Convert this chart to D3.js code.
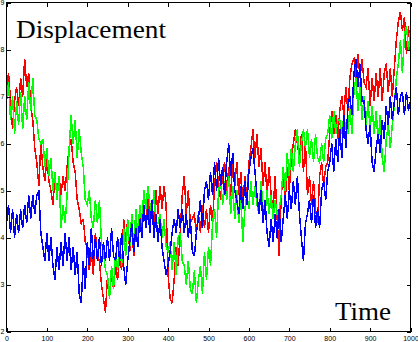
<!DOCTYPE html>
<html><head><meta charset="utf-8">
<script src="https://cdn.jsdelivr.net/npm/d3@7"></script>
<style>html,body{margin:0;padding:0;background:#fff;}svg{display:block;}</style>
</head><body>
<svg id="c" width="418" height="342"></svg>
<script>
const timeStep = 5;
const xTicks = [0,100,200,300,400,500,600,700,800,900,1000];
const yTicks = [2,3,4,5,6,7,8,9];
const redSeries = [
7.2,7.5,6.9,6.3,6.9, 7.2,6.8,7.4,7.0,7.8, 7.2,7.5,6.8,6.5,5.9, 5.6,5.1,6.0,5.5,5.2,
5.7,5.2,5.0,4.7,5.3, 4.9,5.3,4.9,5.3,5.0, 5.5,5.9,6.1,5.6,5.4, 4.8,4.6,4.3,4.4,3.9,
3.8,3.3,3.7,3.2,4.1, 3.6,3.5,3.0,2.7,2.4, 3.2,2.8,3.2,2.9,3.4, 3.1,3.6,3.3,4.4,3.9,
4.4,3.7,4.3,3.6,4.2, 3.8,4.5,4.1,4.7,4.2, 4.9,4.4,4.8,4.2,5.0, 4.5,5.1,4.6,5.1,4.7,
3.2,2.7,2.6,3.1,3.8, 3.4,4.1,4.9,5.3,4.5, 5.0,4.3,4.4,4.5,4.1, 4.5,4.1,4.7,4.2,4.6,
4.1,4.7,4.3,5.1,5.6, 5.1,4.8,5.4,5.6,4.9, 5.5,4.8,5.7,5.1,5.6, 4.9,5.4,4.7,5.3,4.8,
5.6,5.9,6.3,5.7,6.2, 5.5,5.9,5.1,5.6,4.9, 5.5,4.9,4.6,5.3,4.4, 3.6,4.9,5.3,4.8,5.5,
5.0,5.7,6.0,6.3,6.0, 5.7,6.2,5.4,6.0,4.9, 5.3,4.7,5.2,4.6,4.3, 5.3,5.6,5.1,5.5,5.6,
6.2,6.7,6.2,6.6,6.1, 6.7,7.0,6.6,7.2,6.7, 7.4,7.7,7.8,7.4,7.9, 7.4,7.8,7.3,7.2,7.6,
6.8,7.4,6.9,7.5,7.0, 7.6,6.9,7.5,7.7,7.1, 7.6,7.0,7.6,8.2,8.6, 8.8,8.4,8.7,7.9,8.5,
7.9];
const greenSeries = [
6.9,7.3,6.5,7.0,6.2, 6.9,6.4,7.1,6.3,7.0, 6.5,7.3,6.7,7.4,6.6, 6.5,6.1,6.0,6.1,5.5,
5.9,5.3,5.7,5.0,5.4, 4.8,5.3,4.2,4.7,4.3, 4.9,5.9,6.6,6.0,6.5, 5.7,6.3,5.8,5.5,4.8,
4.7,5.0,4.4,4.2,4.8, 4.3,4.8,3.9,3.7,3.3, 3.2,2.7,3.4,2.9,3.7, 3.3,3.9,3.4,4.2,3.6,
4.4,3.8,4.5,3.7,4.6, 4.0,4.7,4.3,5.0,4.6, 5.1,4.7,4.5,5.0,4.3, 4.3,4.5,4.0,4.4,3.8,
3.7,3.9,3.3,3.9,3.2, 4.0,4.1,3.5,3.4,3.0, 3.5,2.9,2.8,3.3,2.6, 3.1,3.4,2.8,3.7,3.1,
3.8,3.4,4.3,4.6,4.0, 5.0,5.2,4.7,5.2,4.8, 5.3,4.5,5.1,4.4,5.0, 4.3,4.9,3.9,4.6,4.9,
4.6,5.2,4.7,5.1,4.7, 4.5,5.2,4.6,4.5,5.0, 4.5,4.9,4.4,4.8,4.5, 4.6,4.9,5.5,5.0,5.8,
5.3,5.9,5.4,6.0,6.3, 5.5,6.0,6.3,5.9,6.3, 5.7,6.1,5.6,6.2,5.7, 5.6,6.0,5.6,6.1,6.2,
6.6,6.1,6.7,6.2,6.5, 6.5,6.2,6.6,6.3,6.2, 6.8,6.2,7.1,7.4,6.7, 7.3,6.5,7.0,6.4,6.9,
6.3,6.8,6.2,6.7,6.0, 6.6,5.7,5.4,6.1,6.4, 5.9,6.4,6.8,7.4,7.7, 8.2,7.5,8.3,8.5,8.0,
8.4];
const blueSeries = [
4.3,4.7,4.1,4.6,4.0, 4.5,4.1,4.6,4.2,4.7, 4.3,4.9,4.4,4.9,4.5, 4.9,5.0,4.1,3.8,3.5,
4.1,3.5,4.0,3.4,3.1, 3.8,3.3,3.9,3.4,4.1, 3.5,4.0,3.3,3.8,3.2, 3.7,2.8,2.6,3.5,2.9,
3.9,3.4,4.2,3.5,4.0, 3.5,4.0,3.4,3.9,3.5, 4.0,3.5,4.2,3.6,3.5, 4.0,3.5,4.1,3.4,3.0,
3.5,3.9,4.3,3.7,4.2, 3.8,4.4,4.0,4.7,4.2, 4.6,4.1,4.8,4.0,4.5, 3.9,4.4,3.8,3.5,3.2,
3.4,3.7,4.1,4.4,4.1, 4.6,4.2,4.6,4.1,4.5, 4.0,4.4,3.7,3.6,4.1, 4.4,4.8,4.2,5.0,5.2,
4.8,5.4,4.9,5.6,5.0, 5.7,5.1,5.5,4.9,5.6, 6.0,5.3,5.8,5.0,4.8, 4.5,5.1,4.6,5.2,4.7,
5.4,5.7,5.9,5.4,4.9, 4.5,5.0,4.3,4.8,4.1, 3.8,4.4,3.9,4.5,4.0, 4.6,3.9,4.4,4.9,4.4,
5.0,4.6,5.2,4.7,5.3, 4.5,4.0,3.5,4.3,4.5, 4.8,4.3,4.9,4.2,4.6, 4.2,5.0,5.2,4.8,5.4,
5.6,6.0,5.4,6.1,5.6, 6.3,5.7,6.6,5.9,6.8, 7.0,6.6,7.5,7.8,7.2, 7.7,6.9,6.9,6.3,6.0,
6.4,5.6,5.4,5.9,6.2, 5.8,6.5,6.1,6.8,6.4, 7.0,6.5,6.9,7.2,6.6, 7.0,7.1,6.6,7.1,6.7,
6.9];
const seriesList = [
  {name:"red", values:redSeries, color:"#ff0000"},
  {name:"green", values:greenSeries, color:"#00ff00"},
  {name:"blue", values:blueSeries, color:"#0000ff"}
];

const svg = d3.select("#c");
const x = d3.scaleLinear().domain([0,1000]).range([6.5,410.5]);
const y = d3.scaleLinear().domain([2,9]).range([331.5,2.5]);

const line = d3.line().x((d,i)=>x(i*timeStep)).y(d=>y(d));
svg.append("g").selectAll("path").data(seriesList).join("path")
  .attr("d", d=>line(d.values))
  .attr("fill","none")
  .attr("stroke", d=>d.color)
  .attr("stroke-width",1.5)
  .attr("stroke-linejoin","miter")
  .attr("shape-rendering","crispEdges");

// box
svg.append("rect").attr("x",x(0)).attr("y",y(9)).attr("width",x(1000)-x(0)).attr("height",y(2)-y(9))
  .attr("fill","none").attr("stroke","#000").attr("stroke-width",1).attr("shape-rendering","crispEdges");

const fontTick = "7px 'Liberation Sans', Arial, sans-serif";
const gb = svg.append("g").attr("transform",`translate(0,${y(2)})`)
  .call(d3.axisBottom(x).tickValues(xTicks).tickFormat(d3.format("d")).tickSizeInner(-4).tickSizeOuter(0).tickPadding(6));
const gt = svg.append("g").attr("transform",`translate(0,${y(9)})`)
  .call(d3.axisTop(x).tickValues(xTicks).tickFormat("").tickSizeInner(-4).tickSizeOuter(0));
const gl = svg.append("g").attr("transform",`translate(${x(0)},0)`)
  .call(d3.axisLeft(y).tickValues(yTicks).tickFormat(d3.format("d")).tickSizeInner(-4).tickSizeOuter(0).tickPadding(2));
const gr = svg.append("g").attr("transform",`translate(${x(1000)},0)`)
  .call(d3.axisRight(y).tickValues(yTicks).tickFormat("").tickSizeInner(-4).tickSizeOuter(0));
[gb,gt,gl,gr].forEach(g=>{
  g.select(".domain").remove();
  g.selectAll("line").attr("stroke","#000").attr("shape-rendering","crispEdges");
  g.selectAll("text").style("font",fontTick).attr("fill","#000");
});
gb.selectAll("text").attr("dy","0.45em");

svg.append("text").attr("x",16).attr("y",38)
  .attr("font-family","'Liberation Serif','Times New Roman',serif").attr("font-size",25)
  .attr("textLength",150).attr("lengthAdjust","spacingAndGlyphs").text("Displacement");
svg.append("text").attr("x",335).attr("y",320)
  .attr("font-family","'Liberation Serif','Times New Roman',serif").attr("font-size",26)
  .attr("textLength",56).attr("lengthAdjust","spacingAndGlyphs").text("Time");
</script>
</body></html>
